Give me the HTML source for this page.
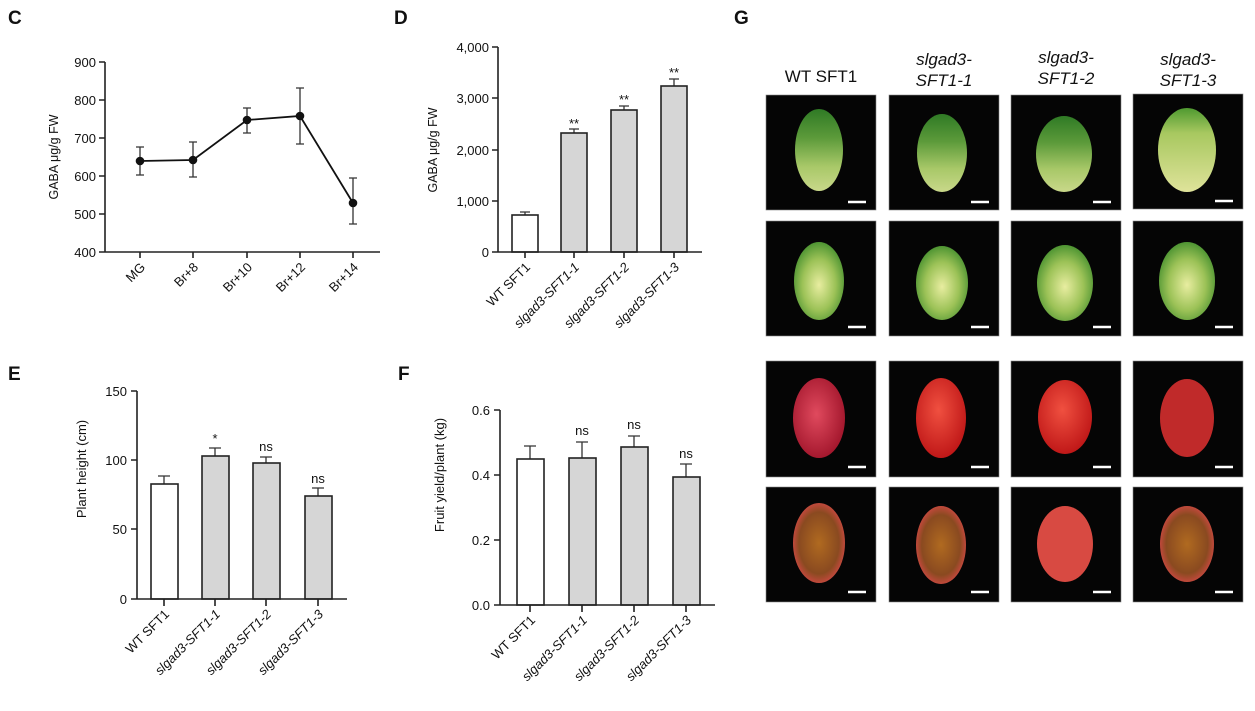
<!DOCTYPE html>
<html><head><meta charset="utf-8"><style>
html,body{margin:0;padding:0;background:#fff}
svg{display:block}
text{font-family:"Liberation Sans",Arial,sans-serif;fill:#111}
.ax{stroke:#222;stroke-width:1.6;fill:none}
.eb{stroke:#333;stroke-width:1.3;fill:none}
.bar{stroke:#222;stroke-width:1.6}
.tl{font-size:13px}
.lab{font-size:19px;font-weight:bold}
</style></head><body>
<svg width="1255" height="711" viewBox="0 0 1255 711" xmlns="http://www.w3.org/2000/svg">
<defs>
<linearGradient id="g1" x1="0" y1="0" x2="0" y2="1"><stop offset="0" stop-color="#2f7a25"/><stop offset="0.35" stop-color="#5c9a3a"/><stop offset="0.7" stop-color="#a8c868"/><stop offset="1" stop-color="#c9d88a"/></linearGradient>
<linearGradient id="g3" x1="0" y1="0" x2="0" y2="1"><stop offset="0" stop-color="#4f9a30"/><stop offset="0.3" stop-color="#a8c860"/><stop offset="1" stop-color="#dfe39a"/></linearGradient>
<radialGradient id="g2" cx="50%" cy="55%" r="60%"><stop offset="0" stop-color="#e8eda0"/><stop offset="0.55" stop-color="#9cc257"/><stop offset="1" stop-color="#3c8a2a"/></radialGradient>
<radialGradient id="r1" cx="45%" cy="45%" r="60%"><stop offset="0" stop-color="#e04a5e"/><stop offset="1" stop-color="#a0142a"/></radialGradient>
<radialGradient id="r2" cx="45%" cy="40%" r="60%"><stop offset="0" stop-color="#f05040"/><stop offset="1" stop-color="#c01818"/></radialGradient>
<radialGradient id="r3" cx="50%" cy="50%" r="55%"><stop offset="0" stop-color="#b06a20"/><stop offset="0.7" stop-color="#8a4a20"/><stop offset="1" stop-color="#d84848"/></radialGradient>
</defs>

<!-- Panel C -->
<text x="8" y="24" class="lab">C</text>
<path class="ax" d="M105,62 V252 H380 M99,62 H105 M99,100 H105 M99,138 H105 M99,176 H105 M99,214 H105 M99,252 H105 M140,252 v6 M193,252 v6 M247,252 v6 M300,252 v6 M353,252 v6"/>
<g class="tl" text-anchor="end">
<text x="96" y="67">900</text><text x="96" y="105">800</text><text x="96" y="143">700</text><text x="96" y="181">600</text><text x="96" y="219">500</text><text x="96" y="257">400</text></g>
<text transform="translate(58,157) rotate(-90)" text-anchor="middle" style="font-size:12.5px">GABA  μg/g FW</text>
<g class="tl" text-anchor="end">
<text transform="translate(146,268) rotate(-45)">MG</text>
<text transform="translate(199,268) rotate(-45)">Br+8</text>
<text transform="translate(253,268) rotate(-45)">Br+10</text>
<text transform="translate(306,268) rotate(-45)">Br+12</text>
<text transform="translate(359,268) rotate(-45)">Br+14</text></g>
<path class="eb" d="M140,147 V175 M136,147 h8 M136,175 h8 M193,142 V177 M189,142 h8 M189,177 h8 M247,108 V133 M243,108 h8 M243,133 h8 M300,88 V144 M296,88 h8 M296,144 h8 M353,178 V224 M349,178 h8 M349,224 h8"/>
<polyline points="140,161 193,160 247,120 300,116 353,203" fill="none" stroke="#111" stroke-width="1.8"/>
<g fill="#111"><circle cx="140" cy="161" r="4.3"/><circle cx="193" cy="160" r="4.3"/><circle cx="247" cy="120" r="4.3"/><circle cx="300" cy="116" r="4.3"/><circle cx="353" cy="203" r="4.3"/></g>

<!-- Panel D -->
<text x="394" y="24" class="lab">D</text>
<path class="eb" d="M525,212 v3 M520,212 h10 M574,129 v4 M569,129 h10 M624,106 v4 M619,106 h10 M674,79 v7 M669,79 h10"/>
<rect class="bar" x="512" y="215" width="26" height="37" fill="#fff"/>
<rect class="bar" x="561" y="133" width="26" height="119" fill="#d6d6d6"/>
<rect class="bar" x="611" y="110" width="26" height="142" fill="#d6d6d6"/>
<rect class="bar" x="661" y="86" width="26" height="166" fill="#d6d6d6"/>
<path class="ax" d="M498,47 V252 H702 M492,47 H498 M492,98 H498 M492,150 H498 M492,201 H498 M492,252 H498 M525,252 v6 M574,252 v6 M624,252 v6 M674,252 v6"/>
<g class="tl" text-anchor="end"><text x="489" y="52">4,000</text><text x="489" y="103">3,000</text><text x="489" y="155">2,000</text><text x="489" y="206">1,000</text><text x="489" y="257">0</text></g>
<text transform="translate(437,150) rotate(-90)" text-anchor="middle" style="font-size:12.5px">GABA  μg/g FW</text>
<g style="font-size:13px" text-anchor="middle"><text x="574" y="128">**</text><text x="624" y="104">**</text><text x="674" y="77">**</text></g>
<g class="tl" text-anchor="end">
<text transform="translate(531,268) rotate(-45)">WT SFT1</text>
<text transform="translate(580,268) rotate(-45)" font-style="italic">slgad3-SFT1-1</text>
<text transform="translate(630,268) rotate(-45)" font-style="italic">slgad3-SFT1-2</text>
<text transform="translate(680,268) rotate(-45)" font-style="italic">slgad3-SFT1-3</text></g>

<!-- Panel E -->
<text x="8" y="380" class="lab">E</text>
<path class="eb" d="M164,484 v-8 M158,476 h12 M215,456 v-8 M209,448 h12 M266,463 v-6 M260,457 h12 M318,496 v-8 M312,488 h12"/>
<rect class="bar" x="151" y="484" width="27" height="115" fill="#fff"/>
<rect class="bar" x="202" y="456" width="27" height="143" fill="#d6d6d6"/>
<rect class="bar" x="253" y="463" width="27" height="136" fill="#d6d6d6"/>
<rect class="bar" x="305" y="496" width="27" height="103" fill="#d6d6d6"/>
<path class="ax" d="M137,391 V599 H347 M131,391 H137 M131,460 H137 M131,529 H137 M131,599 H137 M164,599 v7 M215,599 v7 M266,599 v7 M318,599 v7"/>
<g class="tl" text-anchor="end"><text x="127" y="396">150</text><text x="127" y="465">100</text><text x="127" y="534">50</text><text x="127" y="604">0</text></g>
<text transform="translate(86,469) rotate(-90)" text-anchor="middle" style="font-size:13px">Plant height  (cm)</text>
<g style="font-size:13px" text-anchor="middle"><text x="215" y="443">*</text><text x="266" y="451">ns</text><text x="318" y="483">ns</text></g>
<g class="tl" text-anchor="end" font-style="italic">
<text transform="translate(170,615) rotate(-45)" font-style="normal">WT SFT1</text>
<text transform="translate(221,615) rotate(-45)">slgad3-SFT1-1</text>
<text transform="translate(272,615) rotate(-45)">slgad3-SFT1-2</text>
<text transform="translate(324,615) rotate(-45)">slgad3-SFT1-3</text></g>

<!-- Panel F -->
<text x="398" y="380" class="lab">F</text>
<path class="eb" d="M530,459 v-13 M524,446 h12 M582,458 v-16 M576,442 h12 M634,447 v-11 M628,436 h12 M686,477 v-13 M680,464 h12"/>
<rect class="bar" x="517" y="459" width="27" height="146" fill="#fff"/>
<rect class="bar" x="569" y="458" width="27" height="147" fill="#d6d6d6"/>
<rect class="bar" x="621" y="447" width="27" height="158" fill="#d6d6d6"/>
<rect class="bar" x="673" y="477" width="27" height="128" fill="#d6d6d6"/>
<path class="ax" d="M500,410 V605 H715 M494,410 H500 M494,475 H500 M494,540 H500 M494,605 H500 M530,605 v7 M582,605 v7 M634,605 v7 M686,605 v7"/>
<g class="tl" text-anchor="end"><text x="490" y="415">0.6</text><text x="490" y="480">0.4</text><text x="490" y="545">0.2</text><text x="490" y="610">0.0</text></g>
<text transform="translate(444,475) rotate(-90)" text-anchor="middle" style="font-size:13px">Fruit yield/plant  (kg)</text>
<g style="font-size:13px" text-anchor="middle"><text x="582" y="435">ns</text><text x="634" y="429">ns</text><text x="686" y="458">ns</text></g>
<g class="tl" text-anchor="end" font-style="italic">
<text transform="translate(536,621) rotate(-45)" font-style="normal">WT SFT1</text>
<text transform="translate(588,621) rotate(-45)">slgad3-SFT1-1</text>
<text transform="translate(640,621) rotate(-45)">slgad3-SFT1-2</text>
<text transform="translate(692,621) rotate(-45)">slgad3-SFT1-3</text></g>

<!-- Panel G -->
<text x="734" y="24" class="lab">G</text>
<g style="font-size:17px" text-anchor="middle">
<text x="821" y="82">WT SFT1</text>
<text x="944" y="65" font-style="italic">slgad3-</text><text x="944" y="86" font-style="italic">SFT1-1</text>
<text x="1066" y="63" font-style="italic">slgad3-</text><text x="1066" y="84" font-style="italic">SFT1-2</text>
<text x="1188" y="65" font-style="italic">slgad3-</text><text x="1188" y="86" font-style="italic">SFT1-3</text></g>
<g fill="#050505" stroke="#888" stroke-width="0.6">
<rect x="766" y="95" width="110" height="115"/><rect x="889" y="95" width="110" height="115"/><rect x="1011" y="95" width="110" height="115"/><rect x="1133" y="94" width="110" height="115"/>
<rect x="766" y="221" width="110" height="115"/><rect x="889" y="221" width="110" height="115"/><rect x="1011" y="221" width="110" height="115"/><rect x="1133" y="221" width="110" height="115"/>
<rect x="766" y="361" width="110" height="116"/><rect x="889" y="361" width="110" height="116"/><rect x="1011" y="361" width="110" height="116"/><rect x="1133" y="361" width="110" height="116"/>
<rect x="766" y="487" width="110" height="115"/><rect x="889" y="487" width="110" height="115"/><rect x="1011" y="487" width="110" height="115"/><rect x="1133" y="487" width="110" height="115"/>
</g>
<g>
<ellipse cx="819" cy="150" rx="24" ry="41" fill="url(#g1)"/>
<ellipse cx="942" cy="153" rx="25" ry="39" fill="url(#g1)"/>
<ellipse cx="1064" cy="154" rx="28" ry="38" fill="url(#g1)"/>
<ellipse cx="1187" cy="150" rx="29" ry="42" fill="url(#g3)"/>
<ellipse cx="819" cy="281" rx="25" ry="39" fill="url(#g2)"/>
<ellipse cx="942" cy="283" rx="26" ry="37" fill="url(#g2)"/>
<ellipse cx="1065" cy="283" rx="28" ry="38" fill="url(#g2)"/>
<ellipse cx="1187" cy="281" rx="28" ry="39" fill="url(#g2)"/>
<ellipse cx="819" cy="418" rx="26" ry="40" fill="url(#r1)"/>
<ellipse cx="941" cy="418" rx="25" ry="40" fill="url(#r2)"/>
<ellipse cx="1065" cy="417" rx="27" ry="37" fill="url(#r2)"/>
<ellipse cx="1187" cy="418" rx="27" ry="39" fill="#c02a2a"/>
<ellipse cx="819" cy="543" rx="26" ry="40" fill="url(#r3)"/>
<ellipse cx="941" cy="545" rx="25" ry="39" fill="url(#r3)"/>
<ellipse cx="1065" cy="544" rx="28" ry="38" fill="#d84a42"/>
<ellipse cx="1187" cy="544" rx="27" ry="38" fill="url(#r3)"/>
</g>
<g stroke="#fff" stroke-width="2.5">
<path d="M848,202 h18 M971,202 h18 M1093,202 h18 M1215,201 h18 M848,327 h18 M971,327 h18 M1093,327 h18 M1215,327 h18 M848,467 h18 M971,467 h18 M1093,467 h18 M1215,467 h18 M848,592 h18 M971,592 h18 M1093,592 h18 M1215,592 h18"/>
</g>
</svg>
</body></html>
